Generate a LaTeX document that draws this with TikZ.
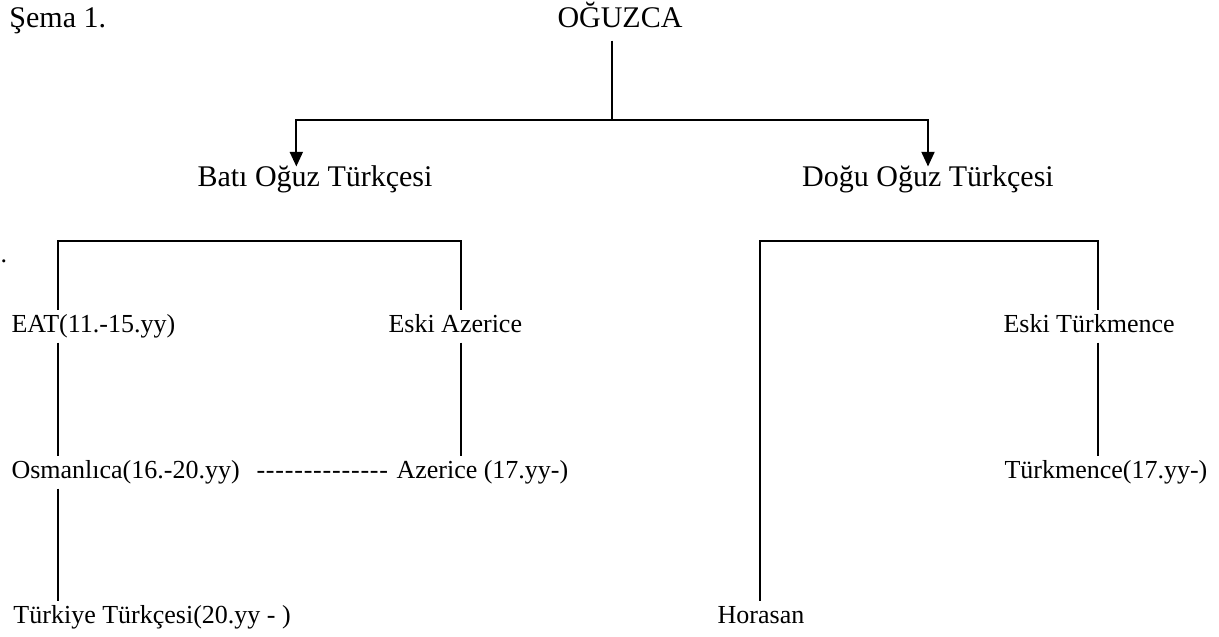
\documentclass[tikz,border=0pt]{standalone}
\usepackage{fontspec}
\setmainfont{Liberation Serif}
\usetikzlibrary{arrows.meta}

\tikzset{every picture/.style={line width=0.75pt}}
\tikzset{
  lbl/.style={inner xsep=0.75pt, inner ysep=3pt, text height=13.5pt, text depth=4.5pt, font=\fontsize{19.5}{23}\selectfont},
  head/.style={inner xsep=0.75pt, inner ysep=0pt, text height=14.25pt, text depth=9.75pt, font=\fontsize{22.5}{27}\selectfont},
  tree/.style={line width=1.5},
  branch/.style={tree, -{Triangle[width=9.75pt,length=11pt]}}
}

\begin{document}
\begin{tikzpicture}[x=0.75pt,y=0.75pt,yscale=-1,xscale=1]
\useasboundingbox (0,0) rectangle (1219,636);

% Text Node
\node (sema) [head, anchor=base west] at (8,27) {Şema 1.};
% Text Node
\node (oguz) [head, anchor=base] at (620,27) {OĞUZCA};
% Text Node
\node (bati) [head, anchor=base] at (315,186) {Batı Oğuz Türkçesi};
% Text Node
\node (dogu) [head, anchor=base] at (928,186) {Doğu Oğuz Türkçesi};
% Text Node
\node (nokta) [lbl, anchor=base west, inner xsep=0pt] at (0,262) {.};

% Text Node
\node (eat) [lbl, anchor=base west] at (10,332) {EAT(11.-15.yy)};
% Text Node
\node (eazr) [lbl, anchor=base west] at (387,332) {Eski Azerice};
% Text Node
\node (osm) [lbl, anchor=base west] at (10,478) {Osmanlıca(16.-20.yy)};
% Text Node
\node (cizgi) [lbl, anchor=base west] at (255,478) {\foreach \k in {1,...,14}{-\kern0.6pt}};
% Text Node
\node (azc) [lbl, anchor=base west] at (395,478) {Azerice (17.yy-)};
% Text Node
\node (tt) [lbl, anchor=base west] at (12,623) {Türkiye Türkçesi(20.yy - )};

% Text Node
\node (etm) [lbl, anchor=base west] at (1002,332) {Eski Türkmence};
% Text Node
\node (tm) [lbl, anchor=base west] at (1003,478) {Türkmence(17.yy-)};
% Text Node
\node (hor) [lbl, anchor=base] at (761,623) {Horasan};

% corners of the brackets
\coordinate (fork) at (612,120);
\coordinate (bl) at (58,241);
\coordinate (br) at (461,241);
\coordinate (rl) at (760,241);
\coordinate (rr) at (1098,241);

%Straight Lines
\draw [tree] (oguz.south -| fork) -- (fork);
\draw [branch] (fork) -| ([xshift=-14pt]bati.north);
\draw [branch] (fork) -| (dogu.north);

%Straight Lines
\draw [tree] (eat.north -| bl) -- (bl) -- (br) -- (eazr.north -| br);
\draw [tree] (eat.south -| bl) -- (osm.north -| bl);
\draw [tree] (osm.south -| bl) -- (tt.north -| bl);
\draw [tree] (eazr.south -| br) -- (azc.north -| br);

%Straight Lines
\draw [tree] (hor.north -| rl) -- (rl) -- (rr) -- (etm.north -| rr);
\draw [tree] (etm.south -| rr) -- (tm.north -| rr);

\end{tikzpicture}
\end{document}
